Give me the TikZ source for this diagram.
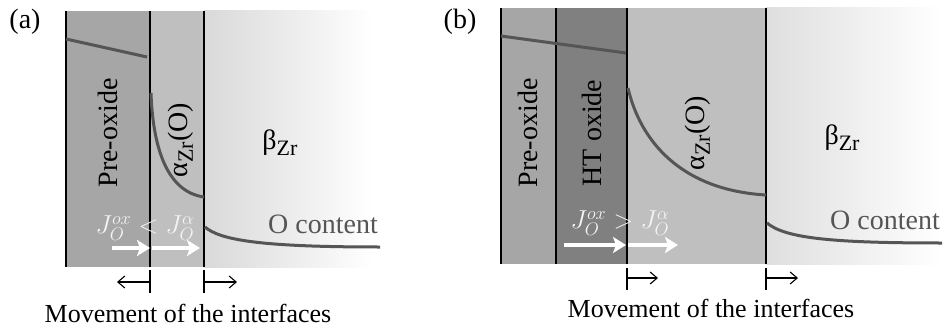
\RequirePackage{fix-cm}
\documentclass[tikz,border=0pt]{standalone}
\usepackage{fontspec}
\setmainfont{Liberation Serif}
\usetikzlibrary{arrows.meta}
\definecolor{preox}{HTML}{A6A6A6}
\definecolor{htox}{HTML}{808080}
\definecolor{alph}{HTML}{BFBFBF}
\definecolor{betaz}{HTML}{D9D9D9}
\definecolor{conccol}{HTML}{555555}
\definecolor{jtext}{HTML}{F4F4F4}
\begin{document}
\begin{tikzpicture}[x=1pt,y=-1pt,
  iface/.style={line width=2.2pt, black},
  conc/.style={line width=3pt, conccol},
  flux/.style={white, line width=4pt, -{Stealth[length=13pt,width=16pt,inset=3pt]}},
  tickmark/.style={line width=1.1pt, black},
  mv/.style={line width=1.1pt, black, -{Straight Barb[length=7pt,width=12pt]}},
  lab/.style={font=\fontsize{28}{30}\selectfont, inner sep=0pt},
  captext/.style={font=\fontsize{26}{28}\selectfont, inner sep=0pt},
  jlab/.style={font=\fontsize{26}{28}\selectfont, text=jtext, inner sep=0pt}]
\useasboundingbox (0,0) rectangle (947,329);
% ---------------- panel (a) ----------------
\fill[preox] (65,11) rectangle (150,267);
\fill[alph] (150,11) rectangle (204,267);
\shade[left color=betaz, right color=white] (204,11) rectangle (373,267);
\fill[white] (373,11) rectangle (380,267);
\coordinate (a0t) at (66,11);  \coordinate (a0b) at (66,267);
\coordinate (a1t) at (150,11); \coordinate (a1b) at (150,267);
\coordinate (a2t) at (204,11); \coordinate (a2b) at (204,267);
\draw[iface] (a0t) -- (a0b);
\draw[iface] (a1t) -- (a1b);
\draw[iface] (a2t) -- (a2b);
\coordinate (aox1) at (66,39); \coordinate (aox2) at (147,57);
\draw[conc] (aox1) -- (aox2);
\coordinate (aal1) at (151,93); \coordinate (aal2) at (204,197);
\draw[conc] (aal1) .. controls (153,150) and (168,192) .. (aal2);
\coordinate (abe1) at (205,227); \coordinate (abe2) at (380,247);
\draw[conc] (abe1) .. controls (220,240) and (260,247) .. (abe2);
\node[lab, rotate=90] (apre) at (108,133) {Pre-oxide};
\node[lab, rotate=90] (aalpha) at (181,140) {α\raisebox{-0.4ex}{\fontsize{22}{24}\selectfont Zr}(O)};
\node[lab] (abeta) at (280,143) {β\raisebox{-0.4ex}{\fontsize{22}{24}\selectfont Zr}};
\node[lab, text=conccol] (aoc) at (323,224) {O content};
\node[jlab] (aj) at (145,228) {$J_O^{ox} < J_O^{\alpha}$};
\coordinate (af1s) at (112,248); \coordinate (af1e) at (150,248);
\coordinate (af2s) at (152,248); \coordinate (af2e) at (200,248);
\draw[flux] (af1s) -- (af1e);
\draw[flux] (af2s) -- (af2e);
\coordinate (at1t) at (150,270); \coordinate (at1b) at (150,293);
\coordinate (at2t) at (204,270); \coordinate (at2b) at (204,293);
\draw[tickmark] (at1t) -- (at1b);
\draw[tickmark] (at2t) -- (at2b);
\coordinate (am1s) at (150,282); \coordinate (am1e) at (117,282);
\coordinate (am2s) at (204,282); \coordinate (am2e) at (237,282);
\draw[mv] (am1s) -- (am1e);
\draw[mv] (am2s) -- (am2e);
\node[captext] (amov) at (188,313) {Movement of the interfaces};
\node[lab] (alabel) at (25,22) {(a)};
% ---------------- panel (b) ----------------
\fill[preox] (500,8) rectangle (556,264);
\fill[htox] (556,8) rectangle (627,264);
\fill[alph] (627,8) rectangle (766,264);
\shade[left color=betaz!85!white, right color=white] (766,8) rectangle (942,264);
\coordinate (b0t) at (501,8);  \coordinate (b0b) at (501,264);
\coordinate (b1t) at (556,8);  \coordinate (b1b) at (556,264);
\coordinate (b2t) at (627,8);  \coordinate (b2b) at (627,264);
\coordinate (b3t) at (766,8);  \coordinate (b3b) at (766,264);
\draw[iface] (b0t) -- (b0b);
\draw[iface] (b1t) -- (b1b);
\draw[iface] (b2t) -- (b2b);
\draw[iface] (b3t) -- (b3b);
\coordinate (box1) at (501,36); \coordinate (box2) at (626,53);
\draw[conc] (box1) -- (box2);
\coordinate (bal1) at (628,88); \coordinate (bal2) at (766,195);
\draw[conc] (bal1) .. controls (640,140) and (680,190) .. (bal2);
\coordinate (bbe1) at (767,223); \coordinate (bbe2) at (942,243);
\draw[conc] (bbe1) .. controls (785,238) and (830,243) .. (bbe2);
\node[lab, rotate=90] (bpre) at (528,133) {Pre-oxide};
\node[lab, rotate=90] (bht) at (592,133) {HT oxide};
\node[lab, rotate=90] (balpha) at (698,133) {α\raisebox{-0.4ex}{\fontsize{22}{24}\selectfont Zr}(O)};
\node[lab] (bbeta) at (842,138) {β\raisebox{-0.4ex}{\fontsize{22}{24}\selectfont Zr}};
\node[lab, text=conccol] (boc) at (885,220) {O content};
\node[jlab] (bj) at (620,223) {$J_O^{ox} > J_O^{\alpha}$};
\coordinate (bf1s) at (564,245); \coordinate (bf1e) at (626,245);
\coordinate (bf2s) at (628,245); \coordinate (bf2e) at (678,245);
\draw[flux] (bf1s) -- (bf1e);
\draw[flux] (bf2s) -- (bf2e);
\coordinate (bt1t) at (627,268); \coordinate (bt1b) at (627,290);
\coordinate (bt2t) at (766,268); \coordinate (bt2b) at (766,290);
\draw[tickmark] (bt1t) -- (bt1b);
\draw[tickmark] (bt2t) -- (bt2b);
\coordinate (bm1s) at (627,278); \coordinate (bm1e) at (658,278);
\coordinate (bm2s) at (766,278); \coordinate (bm2e) at (798,278);
\draw[mv] (bm1s) -- (bm1e);
\draw[mv] (bm2s) -- (bm2e);
\node[captext] (bmov) at (711,308) {Movement of the interfaces};
\node[lab] (blabel) at (460,22) {(b)};
\end{tikzpicture}
\end{document}
